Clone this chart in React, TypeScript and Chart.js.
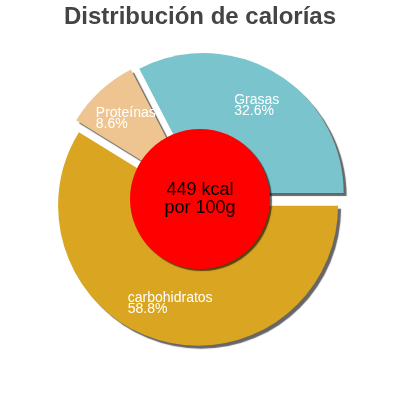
import React, { useEffect, useRef } from "react";
import { Chart, registerables } from "chart.js";

Chart.register(...registerables);

const titleText = "Distribución de calorías";
const categories = ["carbohidratos", "Proteínas", "Grasas"];
const percentages = [58.8, 8.6, 32.6];
const sliceColors = ["#DAA520", "#EEC591", "#7AC5CD"];
const sliceOffsets = [7, 7, 7];
const centerLines = ["449 kcal", "por 100g"];

const FONT = '"Liberation Sans", Arial, Helvetica, sans-serif';

const piePlugin = {
  id: "pieDecor",
  beforeDatasetDraw(chart: any, args: any) {
    const ctx = chart.ctx;
    const meta = args.meta;
    meta.data.forEach((arc: any) => {
      const p = arc.getProps(["x", "y", "startAngle", "endAngle", "outerRadius"], true);
      const mid = (p.startAngle + p.endAngle) / 2;
      const d = arc.options.offset || 0;
      const tx = p.x + Math.cos(mid) * d;
      const ty = p.y + Math.sin(mid) * d;
      ctx.save();
      ctx.shadowColor = "rgba(0,0,0,0.6)";
      ctx.shadowOffsetX = 3;
      ctx.shadowOffsetY = 3;
      ctx.shadowBlur = 1;
      ctx.beginPath();
      ctx.moveTo(tx, ty);
      ctx.arc(tx, ty, p.outerRadius, p.startAngle, p.endAngle);
      ctx.closePath();
      ctx.fillStyle = arc.options.backgroundColor;
      ctx.fill();
      ctx.restore();
    });
    return false;
  },
  afterDatasetsDraw(chart: any) {
    const ctx = chart.ctx;
    const meta = chart.getDatasetMeta(0);
    const first = meta.data[0];
    const { x, y, outerRadius } = first.getProps(["x", "y", "outerRadius"], true);

    // red centre disc
    ctx.save();
    ctx.shadowColor = "rgba(0,0,0,0.6)";
    ctx.shadowOffsetX = 2;
    ctx.shadowOffsetY = 2;
    ctx.shadowBlur = 1;
    ctx.beginPath();
    ctx.arc(x, y, outerRadius * 0.5, 0, Math.PI * 2);
    ctx.fillStyle = "#FF0000";
    ctx.fill();
    ctx.restore();

    ctx.save();
    ctx.fillStyle = "#000000";
    ctx.font = `18px ${FONT}`;
    ctx.textAlign = "center";
    ctx.textBaseline = "middle";
    ctx.fillText(centerLines[0], x, y - 9);
    ctx.fillText(centerLines[1], x, y + 9);
    ctx.restore();

    // slice labels
    ctx.save();
    ctx.fillStyle = "#FFFFFF";
    ctx.font = `14px ${FONT}`;
    ctx.textAlign = "left";
    ctx.textBaseline = "middle";
    meta.data.forEach((arc: any, i: number) => {
      const p = arc.getProps(["x", "y", "startAngle", "endAngle", "outerRadius"], true);
      const mid = (p.startAngle + p.endAngle) / 2;
      const d = arc.options.offset || 0;
      const R = p.outerRadius * 0.73 + d;
      const cx = p.x + Math.cos(mid) * R;
      const cy = p.y + Math.sin(mid) * R;
      const lines = [categories[i], `${percentages[i].toFixed(1)}%`];
      const w = Math.max(...lines.map((l) => ctx.measureText(l).width));
      const left = cx - w / 2;
      ctx.fillText(lines[0], left, cy - 5.5);
      ctx.fillText(lines[1], left, cy + 5.5);
    });
    ctx.restore();
  },
};

export default function App() {
  const ref = useRef<HTMLCanvasElement | null>(null);

  useEffect(() => {
    if (!ref.current) return;
    const chart = new Chart(ref.current, {
      type: "pie",
      data: {
        labels: categories,
        datasets: [
          {
            data: percentages,
            backgroundColor: sliceColors,
            borderWidth: 0,
            offset: sliceOffsets,
            hoverOffset: 0,
          },
        ],
      },
      options: {
        responsive: false,
        animation: false,
        rotation: 90,
        radius: 140,
        layout: { padding: { top: 0, bottom: 33.8, left: 0, right: 0 } },
        events: [],
        plugins: {
          legend: { display: false },
          tooltip: { enabled: false },
          title: {
            display: true,
            text: titleText,
            color: "#444444",
            font: { family: FONT, size: 24, weight: "bold", lineHeight: 1.2 },
            padding: { top: 3, bottom: 0 },
          },
        },
      },
      plugins: [piePlugin],
    } as any);
    return () => chart.destroy();
  }, []);

  return (
    <div style={{ position: "absolute", left: 0, top: 0, width: 400, height: 400, background: "#fff" }}>
      <canvas ref={ref} width={400} height={400} style={{ width: 400, height: 400, display: "block" }} />
    </div>
  );
}
